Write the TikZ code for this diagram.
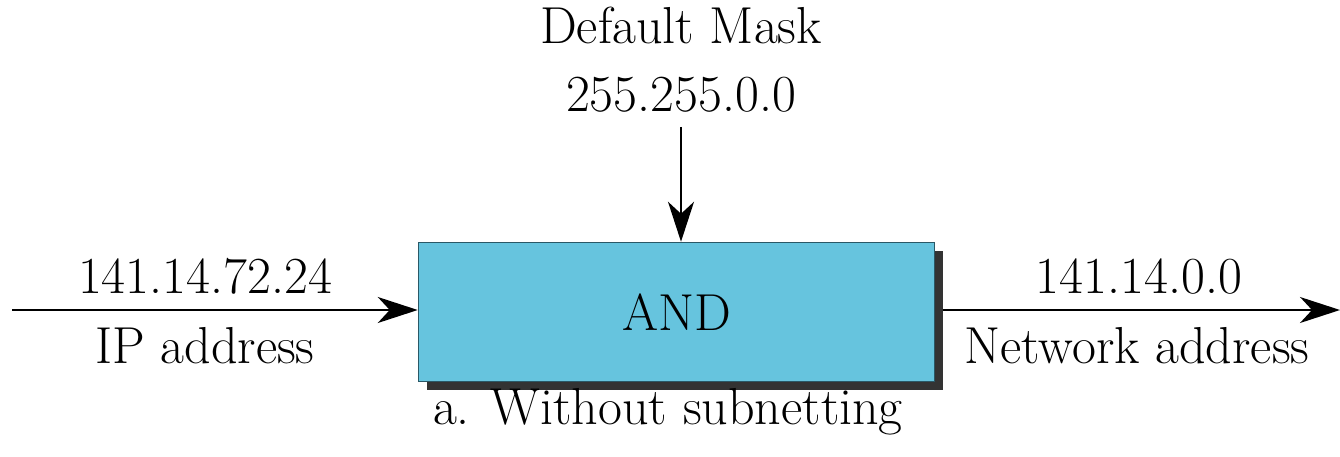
\documentclass[tikz,border=0pt]{standalone}
\usetikzlibrary{arrows.meta}
\definecolor{boxfill}{HTML}{66C4DE}
\definecolor{boxline}{HTML}{2A5866}
\definecolor{shadowc}{HTML}{333333}
\begin{document}
\begin{tikzpicture}[x=1pt,y=1pt,
  lbl/.style={font=\fontsize{52}{62}\selectfont, inner sep=0pt, anchor=base},
  arr/.style={line width=2pt, -{Stealth[length=40pt,width=26pt,inset=12pt]}}]
\useasboundingbox (0,0) rectangle (1340,456);
% shadow
\fill[shadowc] (426.5,66.5) rectangle (942.5,205.5);
\node[draw=boxline, fill=boxfill, line width=1.5pt, minimum width=516pt, minimum height=139pt, inner sep=0pt] (and) at (676.5,144) {};
\node[lbl] (andt) at (676.5,126) {AND};
\node[lbl] (dm) at (681,412) {Default Mask};
\node[lbl] (mask) at (681,344) {255.255.0.0};
\node[lbl] (ip) at (205,163) {141.14.72.24};
\node[lbl] (ipl) at (205,93) {IP address};
\node[lbl] (net) at (1139,163) {141.14.0.0};
\node[lbl] (netl) at (1137,93) {Network address};
\node[lbl] (cap) at (668,32) {a. Without subnetting};
\coordinate (mtop) at (681,329);
\coordinate (lin) at (12,146);
\coordinate (rout) at (1340,146);
\coordinate (rstart) at (942.5,146);
\draw[arr] (mtop) -- (mtop |- and.north);
\draw[arr] (lin) -- (lin -| and.west);
\draw[arr] (rstart) -- (rout);
\end{tikzpicture}
\end{document}
